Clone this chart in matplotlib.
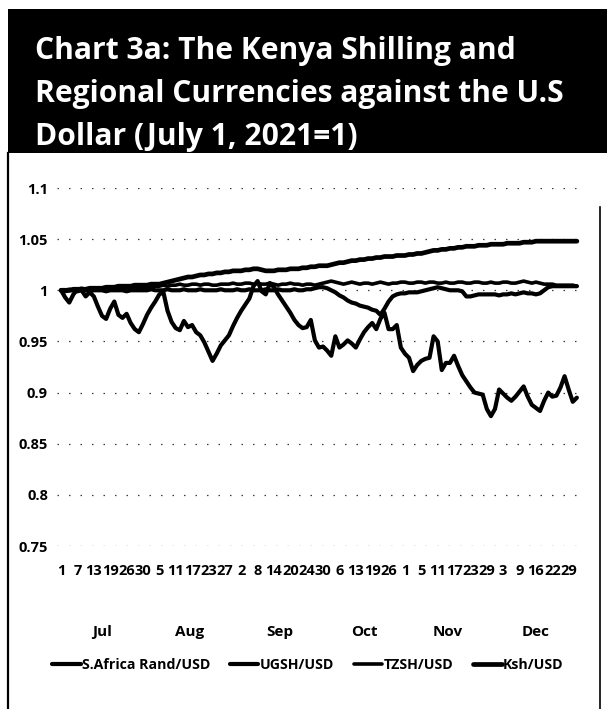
import matplotlib
matplotlib.use("Agg")
import matplotlib.pyplot as plt
from matplotlib.lines import Line2D
from matplotlib.patches import Rectangle
from matplotlib.transforms import blended_transform_factory
from matplotlib.font_manager import FontProperties

# ---------------------------------------------------------------- data
title_lines = [
    "Chart 3a: The Kenya Shilling and",
    "Regional Currencies against the U.S",
    "Dollar (July 1, 2021=1)",
]

day_labels = ["1", "7", "13", "19", "26", "30",
              "5", "11", "17", "23", "27",
              "2", "8", "14", "20", "24", "30",
              "6", "13", "19", "26",
              "1", "5", "11", "17", "23", "29",
              "3", "9", "16", "22", "29"]
month_names = ["Jul", "Aug", "Sep", "Oct", "Nov", "Dec"]
month_trading_days = [21, 22, 22, 19, 22, 21]

ytick_values = [0.75, 0.8, 0.85, 0.9, 0.95, 1.0, 1.05, 1.1]
ytick_labels = ["0.75", "0.8", "0.85", "0.9", "0.95", "1", "1.05", "1.1"]

series_names = ["S.Africa Rand/USD", "UGSH/USD", "TZSH/USD", "Ksh/USD"]

rand_usd = [
    1.000, 0.993, 0.988, 0.996, 1.001, 1.000, 0.994, 0.998, 0.994, 0.984,
    0.975, 0.972, 0.982, 0.989, 0.976, 0.973, 0.977, 0.968, 0.962, 0.959,
    0.967, 0.976, 0.983, 0.989, 0.996, 0.998, 0.980, 0.969, 0.963, 0.961,
    0.970, 0.964, 0.966, 0.959, 0.956, 0.949, 0.940, 0.931, 0.938, 0.946,
    0.951, 0.956, 0.965, 0.973, 0.980, 0.986, 0.992, 1.004, 1.009, 0.999,
    0.996, 1.007, 1.003, 0.996, 0.990, 0.984, 0.978, 0.971, 0.966, 0.963,
    0.964, 0.971, 0.951, 0.944, 0.945, 0.941, 0.936, 0.955, 0.944, 0.947,
    0.951, 0.948, 0.944, 0.952, 0.959, 0.964, 0.968, 0.962, 0.972, 0.978,
    0.962, 0.962, 0.966, 0.944, 0.938, 0.934, 0.921, 0.927, 0.931, 0.933,
    0.934, 0.955, 0.950, 0.922, 0.929, 0.929, 0.936, 0.926, 0.917, 0.911,
    0.905, 0.900, 0.899, 0.898, 0.884, 0.877, 0.884, 0.903, 0.899, 0.895,
    0.892, 0.896, 0.901, 0.906, 0.896, 0.888, 0.885, 0.882, 0.892, 0.900,
    0.896, 0.897, 0.905, 0.916, 0.903, 0.891, 0.895,
]

ugsh_usd = [
    1.000, 0.999, 1.000, 1.000, 0.999, 1.000, 1.000, 0.999, 1.000, 1.000,
    1.000, 0.999, 1.000, 1.000, 1.000, 1.000, 0.999, 1.000, 1.000, 1.000,
    1.000, 1.000, 1.001, 1.000, 1.000, 1.000, 1.001, 1.000, 1.000, 1.000,
    1.001, 1.000, 1.000, 1.000, 1.001, 1.000, 1.000, 1.000, 1.000, 1.001,
    1.000, 1.000, 1.000, 1.001, 1.000, 1.000, 1.001, 1.000, 1.000, 1.000,
    1.001, 1.000, 1.000, 1.001, 1.000, 1.000, 1.000, 1.001, 1.000, 1.000,
    1.001, 1.001, 1.002, 1.003, 1.003, 1.002, 1.000, 0.998, 0.995, 0.993,
    0.990, 0.988, 0.987, 0.985, 0.984, 0.983, 0.981, 0.980, 0.976, 0.982,
    0.989, 0.994, 0.996, 0.997, 0.997, 0.998, 0.998, 0.998, 0.999, 1.000,
    1.001, 1.002, 1.003, 1.002, 1.001, 1.000, 1.000, 1.000, 0.999, 0.994,
    0.994, 0.995, 0.996, 0.996, 0.996, 0.996, 0.996, 0.995, 0.996, 0.996,
    0.997, 0.996, 0.997, 0.998, 0.997, 0.997, 0.996, 0.997, 1.000, 1.003,
    1.004, 1.004, 1.004, 1.004, 1.004, 1.004, 1.004,
]

tzsh_usd = [
    1.000, 1.000, 1.001, 1.000, 1.001, 1.002, 1.001, 1.001, 1.002, 1.001,
    1.001, 1.002, 1.002, 1.001, 1.002, 1.002, 1.003, 1.002, 1.002, 1.003,
    1.003, 1.003, 1.003, 1.004, 1.004, 1.005, 1.004, 1.005, 1.005, 1.006,
    1.005, 1.005, 1.006, 1.006, 1.005, 1.006, 1.006, 1.005, 1.005, 1.006,
    1.006, 1.006, 1.007, 1.006, 1.006, 1.007, 1.007, 1.006, 1.007, 1.006,
    1.006, 1.007, 1.006, 1.005, 1.006, 1.006, 1.007, 1.006, 1.006, 1.005,
    1.006, 1.006, 1.005, 1.006, 1.007, 1.008, 1.009, 1.008, 1.007, 1.006,
    1.007, 1.008, 1.007, 1.006, 1.007, 1.007, 1.006, 1.007, 1.008, 1.007,
    1.006, 1.007, 1.007, 1.008, 1.008, 1.007, 1.007, 1.008, 1.008, 1.007,
    1.008, 1.008, 1.007, 1.007, 1.008, 1.007, 1.007, 1.008, 1.008, 1.007,
    1.007, 1.008, 1.008, 1.007, 1.007, 1.008, 1.007, 1.007, 1.008, 1.008,
    1.007, 1.007, 1.008, 1.009, 1.008, 1.007, 1.008, 1.007, 1.006, 1.006,
    1.006, 1.005, 1.005, 1.005, 1.005, 1.005, 1.004,
]

ksh_usd = [
    1.000, 1.000, 1.000, 1.001, 1.001, 1.001, 1.001, 1.002, 1.002, 1.002,
    1.002, 1.003, 1.003, 1.003, 1.004, 1.004, 1.004, 1.004, 1.005, 1.005,
    1.005, 1.005, 1.006, 1.006, 1.006, 1.007, 1.008, 1.009, 1.010, 1.011,
    1.012, 1.013, 1.013, 1.014, 1.015, 1.015, 1.016, 1.016, 1.017, 1.017,
    1.018, 1.018, 1.019, 1.019, 1.019, 1.020, 1.020, 1.021, 1.021, 1.020,
    1.019, 1.019, 1.019, 1.020, 1.020, 1.020, 1.021, 1.021, 1.021, 1.022,
    1.022, 1.023, 1.023, 1.024, 1.024, 1.024, 1.025, 1.026, 1.027, 1.027,
    1.028, 1.029, 1.029, 1.030, 1.030, 1.031, 1.031, 1.032, 1.032, 1.033,
    1.033, 1.033, 1.034, 1.034, 1.034, 1.035, 1.035, 1.036, 1.036, 1.037,
    1.038, 1.039, 1.039, 1.040, 1.040, 1.041, 1.041, 1.042, 1.042, 1.043,
    1.043, 1.043, 1.044, 1.044, 1.044, 1.045, 1.045, 1.045, 1.045, 1.046,
    1.046, 1.046, 1.046, 1.047, 1.047, 1.047, 1.048, 1.048, 1.048, 1.048,
    1.048, 1.048, 1.048, 1.048, 1.048, 1.048, 1.048,
]

# ---------------------------------------------------------------- style
FAMILY = ["Open Sans", "DejaVu Sans"]
W, H = 607, 709


def fx(px):
    return px / W


def fy(py):
    return 1 - py / H


def font(size, weight="bold"):
    return FontProperties(family=FAMILY, weight=weight, stretch="condensed",
                          size=size)


fig = plt.figure(figsize=(W / 100, H / 100), dpi=100)
fig.patch.set_facecolor("white")

# title band
fig.add_artist(Rectangle((fx(8), fy(153)), fx(W - 8), (153 - 9) / H,
                         transform=fig.transFigure, facecolor="black",
                         edgecolor="none", zorder=0))
for k, line in enumerate(title_lines):
    fig.text(fx(35), fy(51 + 43 * k), line, color="white",
             fontproperties=font(21.6), va="center", ha="left")

# outer frame
fig.add_artist(Line2D([fx(8), fx(8)], [fy(153), fy(709)],
                      transform=fig.transFigure, color="black", lw=1.6))
fig.add_artist(Line2D([fx(600), fx(600)], [fy(207), fy(709)],
                      transform=fig.transFigure, color="black", lw=1.2))

# plotting area
n = len(ksh_usd)
x = list(range(n))
px_left, px_right = 57, 583
px_top, px_bottom = 188, 546
ax = fig.add_axes([fx(px_left), fy(px_bottom), (px_right - px_left) / W,
                   (px_bottom - px_top) / H])
ax.set_xlim(-1, 127.5)
ax.set_ylim(min(ytick_values), max(ytick_values))
for s in ax.spines.values():
    s.set_visible(False)

for v in ytick_values:
    ax.axhline(v, color="#3a3a3a", lw=0.9, ls=(0, (1.2, 8)), zorder=0)

series = [rand_usd, ugsh_usd, tzsh_usd, ksh_usd]
widths = [3.0, 3.0, 2.6, 3.4]
handles = []
for vals, lw, name in zip(series, widths, series_names):
    ln, = ax.plot(x, vals, color="black", lw=lw, solid_joinstyle="round",
                  solid_capstyle="round", label=name, zorder=3)
    handles.append(ln)

# axes ticks
tick_step = 4
ax.set_yticks(ytick_values)
ax.set_yticklabels(ytick_labels, fontproperties=font(10.5))
ax.set_xticks([i * tick_step for i in range(len(day_labels))])
ax.set_xticklabels(day_labels, fontproperties=font(10.5))
ax.tick_params(axis="y", length=0, pad=6.5)
ax.tick_params(axis="x", length=0, pad=13)

# month row under the day labels
trans = blended_transform_factory(ax.transData, ax.transAxes)
start = 0
for name, count in zip(month_names, month_trading_days):
    centre = start + (count - 1) / 2
    ax.text(centre, (px_bottom - 632) / (px_bottom - px_top), name,
            transform=trans, ha="center", va="center",
            fontproperties=font(11))
    start += count

# legend
fig.legend(handles=handles, labels=series_names, loc="center",
           bbox_to_anchor=(fx(308), fy(665)), ncol=4, frameon=False,
           handlelength=2.0, handletextpad=0.1, columnspacing=1.4,
           prop=font(10.2))

fig.savefig("out.png", dpi=100)
